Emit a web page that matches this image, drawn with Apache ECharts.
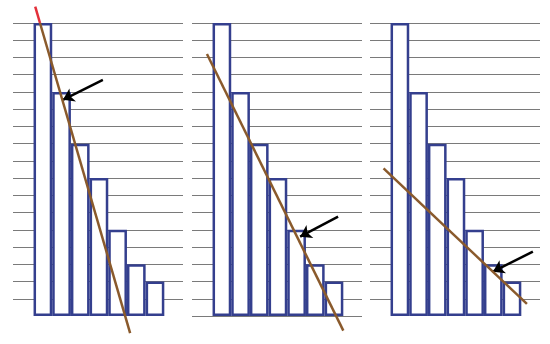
<!DOCTYPE html>
<html>
<head>
<meta charset="utf-8">
<script src="https://cdn.jsdelivr.net/npm/echarts@6/dist/echarts.min.js"></script>
<style>
  html, body { margin: 0; padding: 0; background: #fff; }
  #chart { width: 550px; height: 344px; }
</style>
</head>
<body>
<div id="chart"></div>
<script>
// 每个面板都是同一组柱子
const categories = [0, 1, 2, 3, 4, 5, 6];
const barValues = [17, 13, 10, 8, 5, 3, 2];

// 三条拟合直线（两端点，数据坐标）
const fitLine1 = [[0.09, 17.95], [5.17, -0.99]];
const fitLine2 = [[-0.30, 15.2], [7.0, -0.85]];
const fitLine3 = [[-0.375, 8.57], [7.3, 0.70]];

// 箭头：尾 -> 头
const arrow1 = [[3.71, 13.70], [1.57, 12.54]];
const arrow2 = [[6.72, 5.76], [4.69, 4.60]];
const arrow3 = [[7.62, 3.73], [5.48, 2.57]];

const fitLines = [fitLine1, fitLine2, fitLine3];
const arrows = [arrow1, arrow2, arrow3];

const xMin = -1.1, xMax = 8.0, yMax = 17;
const gridW = 170;
const panelLefts = [13, 192, 370];
const barW = gridW / (xMax - xMin);

const blue = '#343f8e';
const brown = '#8a5a2c';
const red = '#e3303a';

// 直线在 y = yMax 处的点，超出部分画红色
function splitAtTop(line) {
  const [p0, p1] = line;
  if (p0[1] <= yMax) return null;
  const t = (yMax - p0[1]) / (p1[1] - p0[1]);
  return [p0[0] + t * (p1[0] - p0[0]), yMax];
}

const chart = echarts.init(document.getElementById('chart'));

const grids = [], xAxes = [], yAxes = [], series = [];
panelLefts.forEach((left, i) => {
  grids.push({ left: left, top: 23, width: gridW, height: 293 });
  xAxes.push({
    type: 'value', gridIndex: i, min: xMin, max: xMax,
    axisLine: { show: false }, axisTick: { show: false },
    axisLabel: { show: false }, splitLine: { show: false }
  });
  yAxes.push({
    type: 'value', gridIndex: i, min: 0, max: yMax, interval: 1,
    axisLine: { show: false }, axisTick: { show: false },
    axisLabel: { show: false },
    splitLine: {
      show: true,
      showMinLine: i === 1,
      lineStyle: { color: '#7a7a7a', width: 1 }
    }
  });
  series.push({
    type: 'bar', xAxisIndex: i, yAxisIndex: i,
    barWidth: barW,
    data: categories.map((c, k) => [c + 0.5, barValues[k]]),
    itemStyle: { color: '#fff', borderColor: blue, borderWidth: 2.5 },
    silent: true
  });

  const line = fitLines[i];
  const cut = splitAtTop(line);
  if (cut) {
    series.push({
      type: 'line', xAxisIndex: i, yAxisIndex: i,
      data: [line[0], cut], showSymbol: false, clip: false,
      lineStyle: { color: red, width: 2.5 }, z: 5
    });
  }
  series.push({
    type: 'line', xAxisIndex: i, yAxisIndex: i,
    data: cut ? [cut, line[1]] : line, showSymbol: false, clip: false,
    lineStyle: { color: brown, width: 2.5 }, z: 5
  });

  const a = arrows[i];
  series.push({
    type: 'line', xAxisIndex: i, yAxisIndex: i,
    data: [], z: 6,
    markLine: {
      silent: true, animation: false,
      symbol: ['none', 'arrow'], symbolSize: 11,
      label: { show: false },
      lineStyle: { color: '#000', width: 2.5, type: 'solid' },
      data: [[{ coord: a[0] }, { coord: a[1] }]]
    }
  });
});

chart.setOption({
  animation: false,
  grid: grids,
  xAxis: xAxes,
  yAxis: yAxes,
  series: series
});
</script>
</body>
</html>
